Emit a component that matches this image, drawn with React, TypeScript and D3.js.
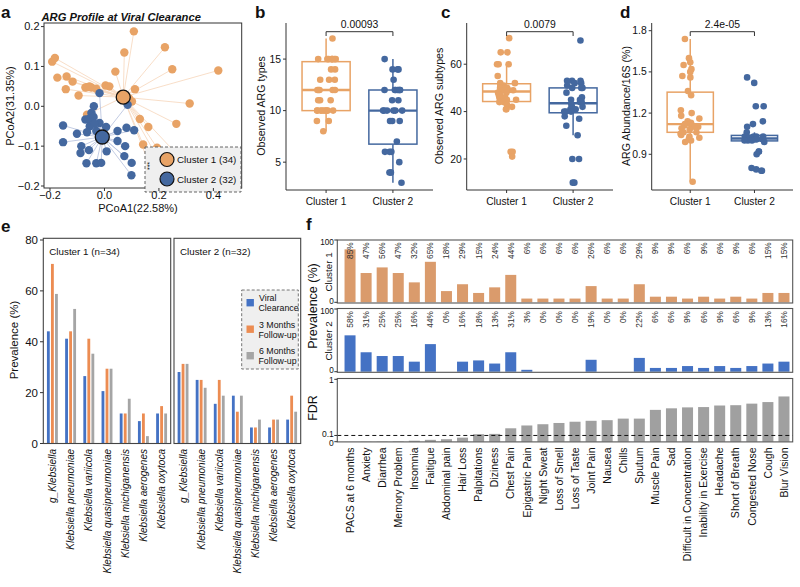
import React from 'react';
import * as d3 from 'd3';

const FONT = "'Liberation Sans', Arial, Helvetica, sans-serif";

// ---------- Panel a: PCoA ----------
const pcoaCluster1: [number, number][] = [
  [0.108, 0.188], [-0.192, 0.112], [-0.182, 0.121], [0.222, 0.148], [0.073, 0.135],
  [0.249, 0.093], [0.418, 0.09], [0.04, 0.087], [-0.173, 0.072], [-0.139, 0.075],
  [-0.117, 0.062], [-0.142, 0.043], [-0.095, 0.027], [-0.064, 0.048], [-0.048, 0.047],
  [-0.03, 0.044], [0.004, 0.052], [0.018, 0.05], [0.112, 0.043], [0.101, 0.012],
  [0.313, 0.007], [0.13, -0.032], [-0.064, -0.021], [0.161, -0.052], [0.264, -0.044],
  [0.142, -0.096], [0.193, -0.104], [0.2, -0.135], [0.3, -0.145], [0.17, -0.155],
  [-0.07, 0.047], [0.09, 0.02], [0.06, 0.03], [-0.055, 0.05],
];
const pcoaCluster2: [number, number][] = [
  [-0.018, 0.033], [-0.039, 0.0], [0.085, 0.004], [-0.048, -0.017], [-0.152, -0.048],
  [-0.07, -0.033], [-0.057, -0.032], [-0.04, -0.027], [-0.054, -0.05], [-0.018, -0.042],
  [0.006, -0.052], [-0.101, -0.069], [-0.064, -0.065], [-0.03, -0.062], [0.048, -0.062],
  [0.081, -0.054], [0.109, -0.06], [0.048, -0.087], [-0.152, -0.09], [-0.085, -0.1],
  [0.076, -0.1], [-0.088, -0.117], [-0.057, -0.11], [0.008, -0.113], [0.073, -0.125],
  [0.1, -0.142], [-0.066, -0.143], [-0.03, -0.143], [-0.012, -0.142], [0.099, -0.173],
  [-0.036, -0.044], [0.0, -0.079],
];
const pcoaCentroids: [number, number][] = [[0.069, 0.023], [-0.008, -0.077]];
const pcoaXTicks = [-0.2, 0, 0.2, 0.4];
const pcoaYTicks = [-0.2, -0.1, 0, 0.1, 0.2];
const legendA = ['Cluster 1 (34)', 'Cluster 2 (32)'];

// ---------- Panels b, c, d ----------
const clusterNames = ['Cluster 1', 'Cluster 2'];
const argTypesC1 = [17, 15, 15, 15, 15, 15, 15, 15, 15, 14, 14, 13, 13, 13, 12, 12, 12, 12, 12, 11, 11, 11, 10, 10, 10, 10, 10, 10, 10, 10, 10, 9, 9, 8];
const argTypesC2 = [15, 14, 14, 14, 13, 12, 12, 12, 12, 12, 12, 12, 11, 11, 10, 10, 10, 10, 10, 10, 9, 9, 9, 7, 6, 6, 6, 5, 4, 4, 4, 3];
const argSubC1 = [71, 65, 65, 60, 60, 60, 55, 52, 52, 51, 51, 50, 50, 50, 49, 49, 49, 48, 48, 47, 47, 46, 46, 45, 45, 44, 44, 43, 42, 41, 41, 23, 23, 21];
const argSubC2 = [70, 53, 53, 53, 52, 52, 51, 50, 50, 50, 48, 46, 45, 45, 44, 44, 43, 42, 42, 41, 41, 40, 40, 40, 38, 37, 34, 30, 20, 20, 10, 10];
const argAbC1 = [1.74, 1.6, 1.57, 1.55, 1.52, 1.5, 1.47, 1.46, 1.36, 1.33, 1.22, 1.2, 1.18, 1.16, 1.14, 1.13, 1.12, 1.12, 1.11, 1.11, 1.1, 1.1, 1.09, 1.08, 1.06, 1.06, 1.05, 1.04, 1.03, 1.02, 1.01, 1.0, 0.99, 0.7];
const argAbC2 = [1.46, 1.42, 1.25, 1.25, 1.14, 1.12, 1.1, 1.06, 1.03, 1.03, 1.03, 1.03, 1.03, 1.02, 1.02, 1.02, 1.01, 1.01, 1.01, 1.01, 1.01, 1.0, 1.0, 1.0, 0.99, 0.92, 0.92, 0.9, 0.8, 0.79, 0.78, 0.78];

// ---------- Panel e ----------
const species = ['g_Klebsiella', 'Klebsiella pneumoniae', 'Klebsiella variicola', 'Klebsiella quasipneumoniae', 'Klebsiella michiganensis', 'Klebsiella aerogenes', 'Klebsiella oxytoca'];
const timepoints = ['Viral Clearance', '3 Months Follow-up', '6 Months Follow-up'];
const timepointLines = [['Viral', 'Clearance'], ['3 Months', 'Follow-up'], ['6 Months', 'Follow-up']];
const c1Viral = [44.1, 41.2, 26.5, 20.6, 11.8, 8.8, 11.8];
const c1Month3 = [70.6, 44.1, 41.2, 29.4, 11.8, 11.8, 14.7];
const c1Month6 = [58.8, 52.9, 35.3, 29.4, 17.6, 2.9, 11.8];
const c2Viral = [28.1, 25.0, 15.6, 18.8, 6.3, 6.3, 9.4];
const c2Month3 = [31.3, 25.0, 25.0, 12.5, 6.3, 9.4, 18.8];
const c2Month6 = [31.3, 21.9, 18.8, 18.8, 9.4, 9.4, 12.5];
const facetTitles = ['Cluster 1 (n=34)', 'Cluster 2 (n=32)'];
const eYTicks = [0, 20, 40, 60, 80];

// ---------- Panel f ----------
const symptoms = ['PACS at 6 months', 'Anxiety', 'Diarrhea', 'Memory Problem', 'Insomnia', 'Faitigue', 'Abdominal pain', 'Hair Loss', 'Palpitations', 'Diziness', 'Chest Pain', 'Epigastric Pain', 'Night Sweat', 'Loss of Smell', 'Loss of Taste', 'Joint Pain', 'Nausea', 'Chills', 'Sputum', 'Muscle Pain', 'Sad', 'Difficult in Concentration', 'Inability in Exercise', 'Headache', 'Short of Breath', 'Congested Nose', 'Cough', 'Blur Vision'];
const prevC1 = [85, 47, 56, 47, 32, 65, 18, 29, 15, 24, 44, 6, 6, 6, 6, 26, 6, 6, 29, 9, 9, 6, 9, 6, 9, 6, 15, 15];
const prevC2 = [58, 31, 25, 25, 16, 44, 0, 16, 18, 13, 31, 3, 0, 0, 0, 19, 0, 0, 22, 6, 6, 9, 6, 9, 6, 9, 13, 16];
const fdrValues = [0.0005, 0.002, 0.003, 0.006, 0.016, 0.03, 0.04, 0.065, 0.12, 0.125, 0.215, 0.26, 0.28, 0.3, 0.32, 0.335, 0.345, 0.37, 0.37, 0.51, 0.535, 0.55, 0.555, 0.58, 0.585, 0.61, 0.635, 0.725];

// ---------- styling ----------
const ORANGE = '#E8A366';
const BLUE = '#44689F';
const ORANGE_LINE = '#F7DAC2';
const BLUE_LINE = '#BCC6E0';
const E_COLORS = ['#4472C4', '#EC8C52', '#A5A5A5'];
const F_ORANGE = '#DA9B6C';
const F_BLUE = '#4472C4';
const F_GRAY = '#A0A0A0';
const AX = '#333';

function jitter(i: number, seed: number) {
  const s = Math.sin(i * 127.1 + seed * 311.7) * 43758.5453;
  return (s - Math.floor(s)) * 2 - 1;
}

function boxStats(values: number[]) {
  const s = [...values].sort((a, b) => a - b);
  const q1 = d3.quantile(s, 0.25)!;
  const med = d3.quantile(s, 0.5)!;
  const q3 = d3.quantile(s, 0.75)!;
  const iqr = q3 - q1;
  const lo = d3.min(s.filter(v => v >= q1 - 1.5 * iqr))!;
  const hi = d3.max(s.filter(v => v <= q3 + 1.5 * iqr))!;
  return { q1, med, q3, lo, hi };
}

const fmtSigned = (v: number) => (v < 0 ? '\u2212' : '') + Math.abs(v).toFixed(1);

function PanelA() {
  const x = d3.scaleLinear().domain([-0.222, 0.504]).range([44, 241.7]);
  const y = d3.scaleLinear().domain([-0.205, 0.209]).range([188, 23]);
  const groups = [
    { pts: pcoaCluster1, c: pcoaCentroids[0], col: ORANGE, line: ORANGE_LINE },
    { pts: pcoaCluster2, c: pcoaCentroids[1], col: BLUE, line: BLUE_LINE },
  ];
  return (
    <g>
      <text x={1} y={18.3} fontSize={17} fontWeight="bold">a</text>
      <text x={41.5} y={20.5} fontSize={11.2} fontWeight="bold" fontStyle="italic">ARG Profile at Viral Clearance</text>
      {groups.map((g, gi) => (
        <g key={'l' + gi}>
          {g.pts.map((p, i) => (
            <line key={i} x1={x(p[0])} y1={y(p[1])} x2={x(g.c[0])} y2={y(g.c[1])} stroke={g.line} strokeWidth={0.9} />
          ))}
        </g>
      ))}
      {groups.map((g, gi) => (
        <g key={'p' + gi}>
          {g.pts.map((p, i) => (
            <circle key={i} cx={x(p[0])} cy={y(p[1])} r={4.2} fill={g.col} />
          ))}
        </g>
      ))}
      {groups.map((g, gi) => (
        <circle key={'c' + gi} cx={x(g.c[0])} cy={y(g.c[1])} r={7} fill={g.col} stroke="#111" strokeWidth={1.3} />
      ))}
      <rect x={44} y={23} width={197.7} height={165} fill="none" stroke={AX} strokeWidth={1} />
      <rect x={145} y={147} width={96} height={45} fill="#EFEFEF" stroke="#555" strokeDasharray="3,2" strokeWidth={0.9} />
      <text transform="translate(152,166) rotate(-90)" fontSize={7} textAnchor="middle">***</text>
      {legendA.map((l, i) => (
        <g key={l}>
          <circle cx={167} cy={159.5 + i * 19.5} r={7} fill={i === 0 ? ORANGE : BLUE} stroke="#111" strokeWidth={1.2} />
          <text x={177} y={163 + i * 19.5} fontSize={9.8}>{l}</text>
        </g>
      ))}
      {pcoaXTicks.map(t => (
        <g key={t}>
          <line x1={x(t)} x2={x(t)} y1={188} y2={191} stroke={AX} />
          <text x={x(t)} y={198.8} fontSize={11} textAnchor="middle">{fmtSigned(t)}</text>
        </g>
      ))}
      {pcoaYTicks.map(t => (
        <g key={t}>
          <line x1={41} x2={44} y1={y(t)} y2={y(t)} stroke={AX} />
          <text x={39.5} y={y(t) + 3.8} fontSize={11} textAnchor="end">{fmtSigned(t)}</text>
        </g>
      ))}
      <text x={138} y={211.5} fontSize={11} textAnchor="middle">PCoA1(22.58%)</text>
      <text transform={`translate(13.5,106) rotate(-90)`} fontSize={11} textAnchor="middle">PCoA2(31.35%)</text>
    </g>
  );
}

function BoxPanel(props: {
  letter: string; letterX: number; x0: number; x1: number; domain: [number, number];
  ticks: number[]; fmt: (v: number) => string; title: string; titleX: number;
  d1: number[]; d2: number[]; p: string; seed: number;
}) {
  const top = 23, bottom = 190;
  const y = d3.scaleLinear().domain(props.domain).range([bottom, top]);
  const x = d3.scalePoint().domain(clusterNames).range([props.x0, props.x1]).padding(0.6);
  const bw = x.step() * 0.72;
  const sets = [
    { name: clusterNames[0], data: props.d1, col: ORANGE },
    { name: clusterNames[1], data: props.d2, col: BLUE },
  ];
  const cx1 = x(clusterNames[0])!, cx2 = x(clusterNames[1])!;
  return (
    <g>
      <text x={props.letterX} y={18.3} fontSize={17} fontWeight="bold">{props.letter}</text>
      {sets.map((s, si) => {
        const st = boxStats(s.data);
        const cx = x(s.name)!;
        return (
          <g key={s.name}>
            <line x1={cx} x2={cx} y1={y(st.lo)} y2={y(st.q1)} stroke={s.col} strokeWidth={1.5} />
            <line x1={cx} x2={cx} y1={y(st.q3)} y2={y(st.hi)} stroke={s.col} strokeWidth={1.5} />
            <rect x={cx - bw / 2} y={y(st.q3)} width={bw} height={Math.max(1, y(st.q1) - y(st.q3))} fill="#fff" stroke={s.col} strokeWidth={1.5} />
            <line x1={cx - bw / 2} x2={cx + bw / 2} y1={y(st.med)} y2={y(st.med)} stroke={s.col} strokeWidth={2.4} />
            {s.data.map((v, i) => (
              <circle key={i} cx={cx + jitter(i, props.seed + si) * 10} cy={y(v)} r={3.3} fill={s.col} />
            ))}
          </g>
        );
      })}
      <line x1={props.x0} x2={props.x0} y1={top} y2={bottom} stroke={AX} />
      <line x1={props.x0} x2={props.x1} y1={bottom} y2={bottom} stroke={AX} />
      {props.ticks.map(t => (
        <g key={t}>
          <line x1={props.x0 - 3} x2={props.x0} y1={y(t)} y2={y(t)} stroke={AX} />
          <text x={props.x0 - 5} y={y(t) + 3.6} fontSize={10.4} textAnchor="end">{props.fmt(t)}</text>
        </g>
      ))}
      {clusterNames.map(c => (
        <g key={c}>
          <line x1={x(c)!} x2={x(c)!} y1={bottom} y2={bottom + 3} stroke={AX} />
          <text x={x(c)!} y={205} fontSize={10.2} textAnchor="middle">{c}</text>
        </g>
      ))}
      <text transform={`translate(${props.titleX},106) rotate(-90)`} fontSize={10.6} textAnchor="middle">{props.title}</text>
      <path d={`M${cx1},36 V31.7 H${cx2} V36`} fill="none" stroke={AX} strokeWidth={1} />
      <text x={(cx1 + cx2) / 2} y={28.2} fontSize={10.4} textAnchor="middle">{props.p}</text>
    </g>
  );
}

function PanelE() {
  const y = d3.scaleLinear().domain([0, 80]).range([443.5, 240]);
  const facets = [
    { x0: 43.3, x1: 170.7, series: [c1Viral, c1Month3, c1Month6] },
    { x0: 174, x1: 300.7, series: [c2Viral, c2Month3, c2Month6] },
  ];
  return (
    <g>
      <text x={1} y={232} fontSize={17} fontWeight="bold">e</text>
      {facets.map((f, fi) => {
        const xb = d3.scaleBand().domain(species).range([f.x0, f.x1]).paddingInner(0.4).paddingOuter(0.2);
        const xi = d3.scaleBand().domain(timepoints).range([0, xb.bandwidth()]).paddingInner(0.3);
        return (
          <g key={fi}>
            {f.series.map((ser, si) => ser.map((v, k) => (
              <rect key={si + '-' + k} x={xb(species[k])! + xi(timepoints[si])!} y={y(v)} width={xi.bandwidth()} height={y(0) - y(v)} fill={E_COLORS[si]} />
            )))}
            <rect x={f.x0} y={238.3} width={f.x1 - f.x0} height={443.5 - 238.3} fill="none" stroke="#444" strokeWidth={1.1} />
            <text x={f.x0 + 6} y={255} fontSize={9.8}>{facetTitles[fi]}</text>
            {species.map(s => (
              <text key={s} transform={`translate(${xb(s)! + xb.bandwidth() / 2},449) rotate(-90)`} dy="0.35em" fontSize={10} fontStyle="italic" textAnchor="end">{s}</text>
            ))}
          </g>
        );
      })}
      {eYTicks.map(t => (
        <g key={t}>
          <line x1={40} x2={43.3} y1={y(t)} y2={y(t)} stroke={AX} />
          <text x={38} y={y(t) + 4} fontSize={11.5} textAnchor="end">{t}</text>
        </g>
      ))}
      <text transform="translate(17.5,340) rotate(-90)" fontSize={11.5} textAnchor="middle">Prevalence (%)</text>
      <rect x={241.7} y={290} width={56.6} height={79} fill="#EFEFEF" stroke="#666" strokeDasharray="3,2" strokeWidth={0.9} />
      {timepointLines.map((lines, i) => {
        const c = 302.7 + i * 26.5;
        return (
          <g key={i}>
            <rect x={246.5} y={c - 3.7} width={7.4} height={7.4} fill={E_COLORS[i]} />
            <text x={259} y={c - 1.5} fontSize={8.8}>{lines[0]}</text>
            <text x={258.5} y={c + 8.3} fontSize={8.8}>{lines[1]}</text>
          </g>
        );
      })}
    </g>
  );
}

function PanelF() {
  const xL = 337.3, xR = 792.7;
  const x = d3.scaleBand().domain(symptoms).range([342, 792]).paddingInner(0.315).paddingOuter(0.1575);
  const y1 = d3.scaleLinear().domain([0, 100]).range([302.3, 240]);
  const y2 = d3.scaleLinear().domain([0, 100]).range([371.7, 309]);
  const y3 = d3.scaleLinear().domain([0, 1]).range([441.7, 379.3]);
  const rows = [
    { y: y1, data: prevC1, col: F_ORANGE, top: 240, bot: 303, lab: 'Cluster 1', labY: 272, txtY: 242.3 },
    { y: y2, data: prevC2, col: F_BLUE, top: 308.5, bot: 372.3, lab: 'Cluster 2', labY: 341, txtY: 311 },
  ];
  const bw = x.bandwidth();
  return (
    <g>
      <text x={306} y={230} fontSize={17} fontWeight="bold">f</text>
      {rows.map((r, ri) => (
        <g key={ri}>
          {symptoms.map((s, i) => (
            <rect key={s} x={x(s)!} y={r.y(r.data[i])} width={bw} height={r.y(0) - r.y(r.data[i])} fill={r.col} />
          ))}
          {symptoms.map((s, i) => (
            <text key={'t' + s} transform={`translate(${x(s)! + bw / 2},${r.txtY}) rotate(-90)`} dy="0.35em" fontSize={8.3} fill="#333" textAnchor="end">{r.data[i]}%</text>
          ))}
          <rect x={xL} y={r.top} width={xR - xL} height={r.bot - r.top} fill="none" stroke="#555" strokeWidth={1.1} />
          {[0, 100].map(t => (
            <g key={t}>
              <line x1={xL - 3} x2={xL} y1={r.y(t)} y2={r.y(t)} stroke={AX} />
              <text x={xL - 3.5} y={r.y(t) + (t === 0 ? 1.5 : 4.5)} fontSize={8.2} textAnchor="end">{t}</text>
            </g>
          ))}
          <text transform={`translate(331.5,${r.labY}) rotate(-90)`} fontSize={9.8} textAnchor="middle">{r.lab}</text>
        </g>
      ))}
      {symptoms.map((s, i) => (
        <rect key={'f' + s} x={x(s)!} y={y3(fdrValues[i])} width={bw} height={y3(0) - y3(fdrValues[i])} fill={F_GRAY} />
      ))}
      <line x1={xL} x2={xR} y1={y3(0.1)} y2={y3(0.1)} stroke="#111" strokeDasharray="4,3" strokeWidth={1} />
      <rect x={xL} y={378.5} width={xR - xL} height={441.9 - 378.5} fill="none" stroke="#555" strokeWidth={1.1} />
      {[0, 0.1, 1].map(t => (
        <g key={t}>
          <line x1={xL - 3} x2={xL} y1={y3(t)} y2={y3(t)} stroke={AX} />
          <text x={xL - 3.5} y={y3(t) + (t === 0 ? 4 : t === 0.1 ? 1.5 : 3.5)} fontSize={8.5} textAnchor="end">{t}</text>
        </g>
      ))}
      <text transform="translate(317,306) rotate(-90)" fontSize={12.5} textAnchor="middle">Prevalence (%)</text>
      <text transform="translate(317,408) rotate(-90)" fontSize={12.5} textAnchor="middle">FDR</text>
      {symptoms.map(s => (
        <text key={'x' + s} transform={`translate(${x(s)! + bw / 2},447.5) rotate(-90)`} dy="0.35em" fontSize={10.5} textAnchor="end">{s}</text>
      ))}
    </g>
  );
}

export default function App() {
  return (
    <svg width={800} height={587} style={{ position: 'absolute', left: 0, top: 0, background: '#fff' }} fontFamily={FONT} fill="#111">
      <PanelA />
      <BoxPanel letter="b" letterX={255} x0={286} x1={433} domain={[2.3, 18.5]} ticks={[5, 10, 15]} fmt={v => String(v)} title="Observed ARG types" titleX={265} d1={argTypesC1} d2={argTypesC2} p="0.00093" seed={1} />
      <BoxPanel letter="c" letterX={441} x0={466.7} x1={613} domain={[6.9, 77.4]} ticks={[20, 40, 60]} fmt={v => String(v)} title="Observed ARG subtypes" titleX={443} d1={argSubC1} d2={argSubC2} p="0.0079" seed={5} />
      <BoxPanel letter="d" letterX={620} x0={651.7} x1={793} domain={[0.64, 1.856]} ticks={[0.9, 1.2, 1.5, 1.8]} fmt={v => v.toFixed(1)} title="ARG Abundance/16S (%)" titleX={630} d1={argAbC1} d2={argAbC2} p="2.4e-05" seed={9} />
      <PanelE />
      <PanelF />
    </svg>
  );
}
